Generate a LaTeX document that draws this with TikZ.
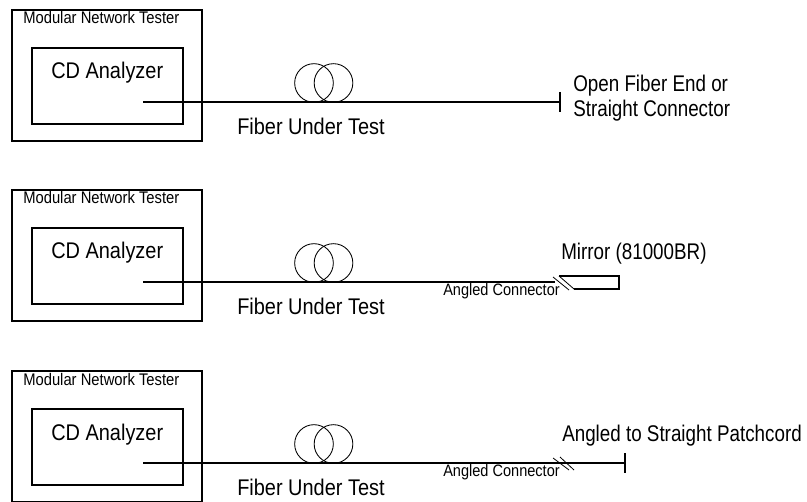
\documentclass[tikz,border=0pt]{standalone}
\usepackage{fontspec}
\setmainfont[FakeStretch=0.88]{Liberation Sans}
\newfontfamily\narrowfont[FakeStretch=0.83]{Liberation Sans}
\usetikzlibrary{calc,positioning}
\tikzset{
	boxline/.style={draw,line width=1.15pt},
	tester/.style={boxline,anchor=north west,inner sep=0,minimum width=142.5pt,minimum height=98.6pt},
	analyzer/.style={boxline,anchor=north west,inner sep=0,minimum width=113.25pt,minimum height=57pt},
	fiber/.style={line width=1.15pt},
	coil/.style={draw,circle,inner sep=0,minimum size=29pt,line width=0.65pt},
	biglabel/.style={inner sep=0,anchor=base west,font=\fontsize{17}{20}\selectfont},
	endlabel/.style={inner sep=0,anchor=base west,font=\narrowfont\fontsize{17}{20}\selectfont},
	smalllabel/.style={inner sep=0,anchor=base west,font=\fontsize{12.6}{15}\selectfont},
	anglelabel/.style={inner sep=0,anchor=base west,font=\fontsize{12.4}{15}\selectfont},
	slash/.style={line width=0.6pt},
}
\begin{document}
\begin{tikzpicture}[x=0.75pt,y=-0.75pt]
	\useasboundingbox (0,0) rectangle (807,502);
	\foreach \r/\off/\xend in {a/0/560,b/180/555,c/361/625}{
		\begin{scope}[yshift=-0.75pt*\off]
			\node(tester\r) [tester] at (11,9) {};
			\node(analyzer\r) [analyzer] at (31,47) {};
			\node(title\r) [smalllabel] at (23,24) {Modular Network Tester};
			\node(cd\r) [biglabel] at (51,79) {CD Analyzer};
			\node(coilL\r) [coil] at (314,83) {};
			\node(coilR\r) [coil] at (333.5,83) {};
			\node(fut\r) [biglabel] at (237,134.5) {Fiber Under Test};
			\coordinate(start\r) at (143,102);
			\coordinate(end\r) at (\xend,102);
			\draw [fiber] (start\r) -- (end\r);
		\end{scope}
	}
	% open end
	\coordinate(bara1) at (560,92);
	\coordinate(bara2) at (560,112);
	\draw [fiber] (bara1) -- (bara2);
	\node(opena) [endlabel] at (573,92) {Open Fiber End or};
	\node(openb) [endlabel] at (573,117) {Straight Connector};
	% mirror
	\node(mirror) [endlabel] at (561,260) {Mirror (81000BR)};
	\node(angledb) [anglelabel] at (443,296) {Angled Connector};
	\coordinate(m1) at (553,277);
	\coordinate(m2) at (569,290);
	\coordinate(m3) at (559,276);
	\coordinate(m4) at (574,289);
	\coordinate(m5) at (619,276);
	\coordinate(m6) at (619,289);
	\draw [slash] (m1) -- (m2);
	\draw [slash] (m3) -- (m4);
	\draw [fiber] (m3) -- (m5) -- (m6) -- (m4);
	% patchcord
	\node(patch) [endlabel] at (562,441) {Angled to Straight Patchcord};
	\node(angledc) [anglelabel] at (443,476) {Angled Connector};
	\coordinate(p1) at (553,458);
	\coordinate(p2) at (569,470);
	\coordinate(p3) at (560,457);
	\coordinate(p4) at (574,470);
	\coordinate(bar1) at (625,453);
	\coordinate(bar2) at (625,473);
	\draw [slash] (p1) -- (p2);
	\draw [slash] (p3) -- (p4);
	\draw [fiber] (bar1) -- (bar2);
\end{tikzpicture}
\end{document}
